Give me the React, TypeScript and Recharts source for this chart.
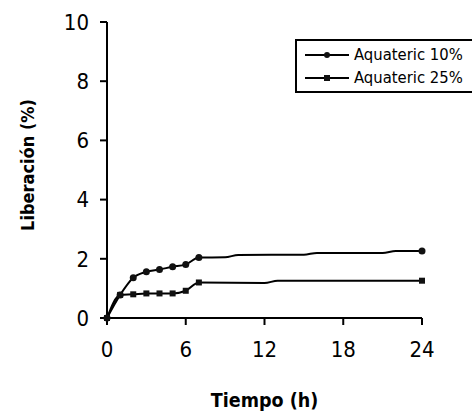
import React from "react";
import { LineChart, Line, XAxis, YAxis, Label } from "recharts";

const hours10 = [0, 1, 2, 3, 4, 5, 6, 7, 9, 10, 15, 16, 21, 22, 24];
const release10 = [0, 0.78, 1.36, 1.56, 1.64, 1.73, 1.81, 2.04, 2.05, 2.13, 2.14, 2.2, 2.2, 2.26, 2.26];
const hours25 = [0, 1, 2, 3, 4, 5, 6, 7, 12, 13, 24];
const release25 = [0, 0.78, 0.8, 0.83, 0.83, 0.83, 0.92, 1.2, 1.18, 1.26, 1.26];
const xTicks = [0, 6, 12, 18, 24];
const yTicks = [0, 2, 4, 6, 8, 10];
const seriesNames = ["Aquateric 10%", "Aquateric 25%"];

const data10 = hours10.map((t, i) => ({ t, v: release10[i] }));
const data25 = hours25.map((t, i) => ({ t, v: release25[i] }));

const FONT = "'DejaVu Sans Condensed', 'Liberation Sans', sans-serif";

function showDot(t: number) {
    return t <= 7 || t === 24;
}

const RoundDot = (props: any) => {
    const { cx, cy, payload } = props;
    if (!showDot(payload.t)) return <g key={props.key} />;
    return <circle key={props.key} cx={cx} cy={cy} r={3.5} fill="#111" />;
};

const SquareDot = (props: any) => {
    const { cx, cy, payload } = props;
    if (!showDot(payload.t)) return <g key={props.key} />;
    return <rect key={props.key} x={cx - 3} y={cy - 3} width={6} height={6} fill="#111" />;
};

const LegendBox = () => (
    <div
        style={{
            position: "absolute",
            top: 39,
            left: 295,
            border: "2px solid #000",
            borderRight: "none",
            height: 48,
            width: 175,
            overflow: "hidden",
            fontFamily: FONT,
            fontSize: 16.5,
            lineHeight: "23px",
            paddingTop: 2,
            background: "#fff",
        }}
    >
        {seriesNames.map((name, i) => (
            <div key={name} style={{ display: "flex", alignItems: "center", whiteSpace: "nowrap" }}>
                <svg width={56} height={20} style={{ flex: "none" }}>
                    <line x1={8} y1={10} x2={52} y2={10} stroke="#000" strokeWidth={2} />
                    {i === 0 ? (
                        <circle cx={30} cy={10} r={3} fill="#111" />
                    ) : (
                        <rect x={27} y={7} width={6} height={6} fill="#111" />
                    )}
                </svg>
                <span style={{ marginLeft: 1 }}>{name}</span>
            </div>
        ))}
    </div>
);

export default function App() {
    return (
        <div style={{ position: "absolute", left: 0, top: 0, width: 472, height: 417, background: "#fff" }}>
            <LineChart width={472} height={417} margin={{ top: 22, right: 50, bottom: 0, left: 0 }}>
                <XAxis
                    type="number"
                    dataKey="t"
                    domain={[0, 24]}
                    ticks={xTicks}
                    height={99}
                    tickSize={7}
                    tickMargin={16}
                    stroke="#000"
                    strokeWidth={2}
                    tick={{ fill: "#000", fontSize: 22, fontFamily: FONT }}
                    allowDuplicatedCategory={false}
                >
                    <Label
                        value="Tiempo (h)"
                        position="insideBottom"
                        offset={10}
                        style={{ fill: "#000", fontSize: 19.5, fontWeight: "bold", fontFamily: FONT }}
                    />
                </XAxis>
                <YAxis
                    type="number"
                    domain={[0, 10]}
                    ticks={yTicks}
                    width={107}
                    tickSize={7}
                    tickMargin={11}
                    stroke="#000"
                    strokeWidth={2}
                    tick={{ fill: "#000", fontSize: 22, fontFamily: FONT }}
                >
                    <Label
                        content={(p: any) => {
                            const vb = p.viewBox;
                            const cy = vb.y + vb.height / 2 - 5;
                            return (
                                <text
                                    x={27}
                                    y={cy}
                                    transform={`rotate(-90 27 ${cy})`}
                                    textAnchor="middle"
                                    dominantBaseline="central"
                                    style={{ fill: "#000", fontSize: 18, fontWeight: "bold", fontFamily: FONT }}
                                >
                                    Liberación (%)
                                </text>
                            );
                        }}
                    />
                </YAxis>
                <Line
                    data={data25}
                    dataKey="v"
                    name={seriesNames[1]}
                    type="monotone"
                    stroke="#000"
                    strokeWidth={2}
                    dot={<SquareDot />}
                    activeDot={false}
                    isAnimationActive={false}
                />
                <Line
                    data={data10}
                    dataKey="v"
                    name={seriesNames[0]}
                    type="monotone"
                    stroke="#000"
                    strokeWidth={2}
                    dot={<RoundDot />}
                    activeDot={false}
                    isAnimationActive={false}
                />
            </LineChart>
            <LegendBox />
        </div>
    );
}
